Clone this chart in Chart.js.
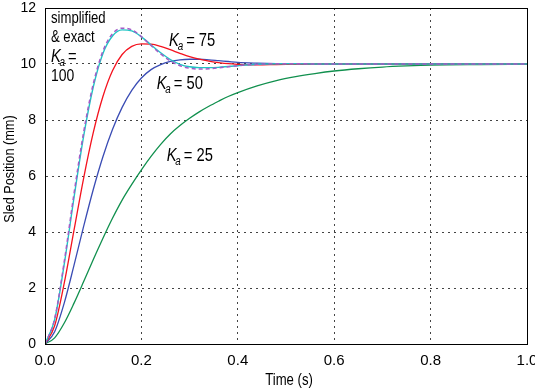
<!DOCTYPE html>
<html><head><meta charset="utf-8">
<script src="https://cdn.jsdelivr.net/npm/chart.js@4.4.1/dist/chart.umd.min.js"></script>
<style>html,body{margin:0;padding:0;background:#fff;}canvas{display:block;}</style>
</head><body>
<canvas id="c" width="535" height="388"></canvas>
<script>
// ---- data ----
const time = [0, 0.02, 0.04, 0.06, 0.08, 0.10, 0.12, 0.14, 0.16, 0.18, 0.20, 0.22, 0.24, 0.26, 0.28, 0.30, 0.32, 0.34, 0.36, 0.38, 0.40, 0.44, 0.48, 0.52, 0.56, 0.60, 0.65, 0.70, 0.75, 0.80, 0.90, 1.00];
const ka100Simplified = [0, 0.87, 2.86, 5.21, 7.41, 9.17, 10.37, 11.00, 11.22, 11.18, 10.97, 10.68, 10.40, 10.16, 9.99, 9.90, 9.87, 9.87, 9.88, 9.91, 9.94, 9.99, 10.01, 10.01, 10.00, 10.00, 10.00, 10.00, 10.00, 10.00, 10.00, 10.00];
const ka100Exact = [0, 0.90, 2.95, 5.35, 7.55, 9.28, 10.45, 11.08, 11.28, 11.22, 10.98, 10.66, 10.36, 10.11, 9.94, 9.85, 9.82, 9.83, 9.86, 9.90, 9.94, 9.99, 10.01, 10.01, 10.00, 10.00, 10.00, 10.00, 10.00, 10.00, 10.00, 10.00];
const ka75 = [0, 0.65, 2.18, 4.05, 5.91, 7.54, 8.83, 9.76, 10.34, 10.63, 10.72, 10.71, 10.63, 10.51, 10.38, 10.26, 10.17, 10.10, 10.05, 10.01, 9.99, 9.97, 9.98, 9.99, 10.00, 10.00, 10.00, 10.00, 10.00, 10.00, 10.00, 10.00];
const ka50 = [0, 0.44, 1.47, 2.80, 4.19, 5.51, 6.68, 7.66, 8.45, 9.06, 9.50, 9.80, 9.98, 10.09, 10.15, 10.17, 10.17, 10.15, 10.12, 10.09, 10.06, 10.03, 10.01, 10.00, 10.00, 10.00, 10.00, 10.00, 10.00, 10.00, 10.00, 10.00];
const ka25 = [0, 0.22, 0.75, 1.45, 2.22, 3.01, 3.77, 4.49, 5.14, 5.70, 6.22, 6.70, 7.13, 7.50, 7.80, 8.06, 8.29, 8.49, 8.67, 8.84, 8.98, 9.22, 9.41, 9.55, 9.66, 9.75, 9.83, 9.89, 9.93, 9.96, 9.98, 9.99];
const xTickStep = 0.2;
const yTickStep = 2;
const xTitle = 'Time (s)';
const yTitle = 'Sled Position (mm)';
const noteLines = ['simplified', '& exact'];
const noteValue = '100';
const curveLabels = [
  {t: 0.2573, v: 10.64, text: '= 75'},
  {t: 0.2317, v: 9.10, text: '= 50'},
  {t: 0.2525, v: 6.54, text: '= 25'}
];

const FONT = "'Liberation Sans', Arial, sans-serif";
const SX = 0.82; // horizontal condensing for annotation text
Chart.defaults.font.family = FONT;
Chart.defaults.color = '#000';

function pts(ys) { return time.map((t, i) => ({x: t, y: ys[i]})); }

function txt(ctx, s, x, y, font, align) {
  ctx.font = font;
  const w = ctx.measureText(s).width * SX;
  let x0 = x;
  if (align === 'center') x0 = x - w / 2;
  ctx.save();
  ctx.translate(x0, y);
  ctx.scale(SX, 1);
  ctx.textAlign = 'left';
  ctx.fillText(s, 0, 0);
  ctx.restore();
  return w;
}

function drawKa(ctx, x, y, size, tail) {
  ctx.textBaseline = 'alphabetic';
  const wK = txt(ctx, 'K', x, y, 'italic ' + size + 'px ' + FONT);
  const ax = x + wK - 1.2;
  const wa = txt(ctx, 'a', ax, y + 4, 'italic ' + Math.round(size * 0.66) + 'px ' + FONT);
  if (tail) txt(ctx, tail, ax + wa + 3, y, size + 'px ' + FONT);
}

const annotations = {
  id: 'annotations',
  afterDraw(chart) {
    const {ctx, chartArea: a, scales: {x, y}} = chart;
    ctx.save();
    ctx.strokeStyle = '#000';
    ctx.lineWidth = 1;
    ctx.strokeRect(Math.round(a.left) + 0.5, Math.round(a.top) + 0.5, Math.round(a.right - a.left), Math.round(a.bottom - a.top));
    ctx.fillStyle = '#000';
    ctx.textBaseline = 'alphabetic';
    curveLabels.forEach(l => drawKa(ctx, x.getPixelForValue(l.t), y.getPixelForValue(l.v), 18, l.text));
    const nx = x.getPixelForValue(0.0124);
    txt(ctx, noteLines[0], nx, y.getPixelForValue(11.475), '16px ' + FONT);
    txt(ctx, noteLines[1], nx, y.getPixelForValue(10.775), '16px ' + FONT);
    drawKa(ctx, nx, y.getPixelForValue(10.08), 18, '=');
    txt(ctx, noteValue, nx, y.getPixelForValue(9.39), '17px ' + FONT);
    ctx.textBaseline = 'middle';
    txt(ctx, xTitle, (a.left + a.right) / 2 + 3, 380.5, '16px ' + FONT, 'center');
    ctx.save();
    ctx.translate(10, 169);
    ctx.rotate(-Math.PI / 2);
    txt(ctx, yTitle, 0, 0, '15.5px ' + FONT, 'center');
    ctx.restore();
    ctx.restore();
  }
};

const gridCommon = {color: '#444', lineWidth: 1, drawTicks: false};

new Chart(document.getElementById('c'), {
  type: 'line',
  data: {
    datasets: [
      {label: 'Ka = 100 exact', data: pts(ka100Exact), borderColor: '#a35cc8', borderWidth: 1.5, borderDash: [4, 3], order: 0},
      {label: 'Ka = 100 simplified', data: pts(ka100Simplified), borderColor: '#1fc4c4', borderWidth: 1.4, order: 1},
      {label: 'Ka = 75', data: pts(ka75), borderColor: '#f4121e', borderWidth: 1.3, order: 2},
      {label: 'Ka = 50', data: pts(ka50), borderColor: '#3a4cb4', borderWidth: 1.3, order: 3},
      {label: 'Ka = 25', data: pts(ka25), borderColor: '#11904e', borderWidth: 1.3, order: 4}
    ]
  },
  options: {
    responsive: false,
    animation: false,
    devicePixelRatio: 1,
    layout: {padding: {top: 8, right: 8, left: 0, bottom: 0}},
    elements: {point: {radius: 0}, line: {cubicInterpolationMode: 'monotone', fill: false}},
    plugins: {legend: {display: false}, tooltip: {enabled: false}},
    scales: {
      x: {
        type: 'linear', min: 0, max: 1,
        afterFit(s) { s.height = 44; s.paddingLeft = 0; s.paddingRight = 0; },
        ticks: {stepSize: xTickStep, padding: 8, font: {size: 15}, callback: v => v.toFixed(1), maxRotation: 0},
        grid: gridCommon,
        border: {display: true, color: '#000', dash: [2, 4]}
      },
      y: {
        type: 'linear', min: 0, max: 12,
        afterFit(s) { s.width = 45; s.paddingTop = 0; s.paddingBottom = 0; },
        ticks: {stepSize: yTickStep, padding: 9, font: {size: 14}, callback: v => String(v)},
        grid: gridCommon,
        border: {display: true, color: '#000', dash: [2, 4]}
      }
    }
  },
  plugins: [annotations]
});
</script>
</body></html>
